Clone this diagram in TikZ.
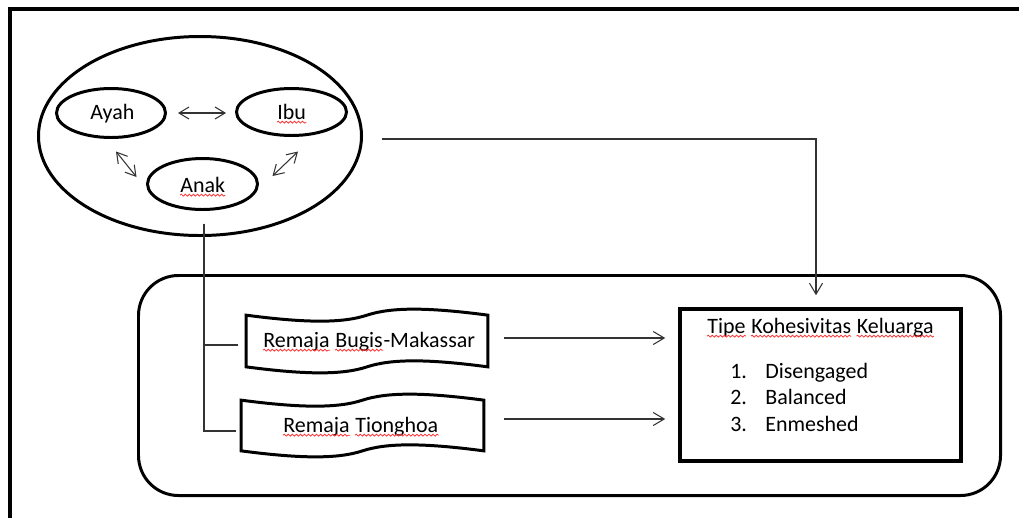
\documentclass[tikz,border=0pt]{standalone}
\usepackage{fontspec}
\setmainfont{Carlito}
\usetikzlibrary{arrows.meta,calc,shapes.geometric,decorations.pathmorphing}

% ribbon outline drawn around a rectangular node
\newcommand\ribbonoutline[1]{%
  \draw[heavy] (#1.north west)
    .. controls ($(#1.north west)!0.25!(#1.north east)+(0,8)$) and ($(#1.north west)!0.4!(#1.north east)+(0,8)$) .. (#1.north)
    .. controls ($(#1.north west)!0.6!(#1.north east)+(0,-8)$) and ($(#1.north west)!0.75!(#1.north east)+(0,-8)$) .. (#1.north east)
    -- (#1.south east)
    .. controls ($(#1.south west)!0.75!(#1.south east)+(0,-8)$) and ($(#1.south west)!0.6!(#1.south east)+(0,-8)$) .. (#1.south)
    .. controls ($(#1.south west)!0.4!(#1.south east)+(0,8)$) and ($(#1.south west)!0.25!(#1.south east)+(0,8)$) .. (#1.south west)
    -- cycle;}

% red wavy underline below a word node
\newcommand\flagword[1]{%
  \draw[squiggle] ([yshift=-1.8pt]#1.base west) -- ([yshift=-1.8pt]#1.base east);}

\tikzset{
  heavy/.style={draw=black, line width=1.7pt},
  member/.style={ellipse, heavy, inner sep=0pt},
  frame/.style={rectangle, inner sep=0pt},
  word/.style={inner sep=0pt, anchor=base west},
  next/.style={word, xshift=2.83pt},
  link/.style={draw=black!80, line width=0.6pt},
  arrow/.style={link, -{Straight Barb[length=2.2mm,width=2.6mm]}},
  both/.style={link, {Straight Barb[length=2mm,width=2.4mm]}-{Straight Barb[length=2mm,width=2.4mm]}},
  squiggle/.style={draw=red!80!white, line width=0.45pt, decorate,
    decoration={snake, amplitude=0.55pt, segment length=2.3pt}},
}

\begin{document}
\begin{tikzpicture}[x=0.2mm, y=-0.2mm, font=\fontsize{12.5}{15}\selectfont]
  \useasboundingbox (0,0) rectangle (1019,517);
  \clip (0,0) rectangle (1019,517);

  % page frame
  \draw[line width=2pt] (1040,9) -- (10,9) -- (10,540);

  % family circle
  \node[member, minimum width=64.6mm, minimum height=39.8mm] (family) at (200,136) {};
  \node[member, minimum width=21.8mm, minimum height=9.8mm] (ayah) at (111,113) {};
  \node[member, minimum width=22mm, minimum height=9.4mm] (ibu) at (291.5,112) {};
  \node[member, minimum width=22mm, minimum height=10.2mm] (anak) at (202.5,184) {};
  \node[word] (ayahw) at (90,119) {Ayah};
  \node[word] (ibuw) at (277,119) {Ibu};
  \node[word] (anakw) at (180,192) {Anak};
  \flagword{ibuw}
  \flagword{anakw}

  \draw[both] ([xshift=2.2mm]ayah.east) -- ($(ibu.west |- ayah.east)+(-9,0)$);
  \draw[both] ($(ayah.south)+(5,12.5)$) -- ($(anak.west)+(-9.5,-7)$);
  \draw[both] ($(ibu.south)+(6.5,14.5)$) -- ($(anak.east)+(13.5,-8)$);

  % group of adolescents and the outcome
  \node[heavy, rectangle, rounded corners=8mm, minimum width=172.4mm, minimum height=44mm] (group) at (569.5,385.5) {};

  \node[frame, minimum width=48.2mm, minimum height=10.2mm] (bugis) at (367,341) {};
  \ribbonoutline{bugis}
  \node[word] (b1) at (263,347) {Remaja};
  \node[next] (b2) at (b1.base east) {Bugis};
  \node[word] (b3) at (b2.base east) {-Makassar};
  \flagword{b1}
  \flagword{b2}

  \node[frame, minimum width=48.4mm, minimum height=10mm] (tionghoa) at (362.5,425.5) {};
  \ribbonoutline{tionghoa}
  \node[word] (c1) at (283,432) {Remaja};
  \node[next] (c2) at (c1.base east) {Tionghoa};
  \flagword{c1}
  \flagword{c2}

  \node[draw=black, line width=2pt, rectangle, minimum width=56.2mm, minimum height=30.4mm] (tipe) at (820.5,385) {};
  \node[word] (h1) at (707,333) {Tipe};
  \node[next] (h2) at (h1.base east) {Kohesivitas};
  \node[next] (h3) at (h2.base east) {Keluarga};
  \flagword{h1}
  \flagword{h2}
  \flagword{h3}
  \node[word] (n1) at (730,378) {1.};
  \node[word] (t1) at (765,378) {Disengaged};
  \node[word] (n2) at (730,404.5) {2.};
  \node[word] (t2) at (765,404.5) {Balanced};
  \node[word] (n3) at (730,431) {3.};
  \node[word] (t3) at (765,431) {Enmeshed};

  % connectors
  \draw[arrow] ([xshift=3.7mm,yshift=-0.6mm]family.east) -| ([xshift=-0.9mm,yshift=2.4mm]tipe.north);
  \draw[link] ([xshift=0.3mm,yshift=-2.5mm]anak.south) |- ([xshift=-1.6mm,yshift=-0.8mm]bugis.west);
  \draw[link] ([xshift=0.3mm,yshift=-2.5mm]anak.south) |- ([xshift=-1.0mm,yshift=-1.1mm]tionghoa.west);
  \draw[arrow] ([xshift=3.2mm,yshift=0.6mm]bugis.east) -- ([xshift=-2.6mm,yshift=0.6mm]bugis.east -| tipe.west);
  \draw[arrow] ([xshift=4mm,yshift=1.3mm]tionghoa.east) -- ([xshift=-2.6mm,yshift=1.3mm]tionghoa.east -| tipe.west);
\end{tikzpicture}
\end{document}
